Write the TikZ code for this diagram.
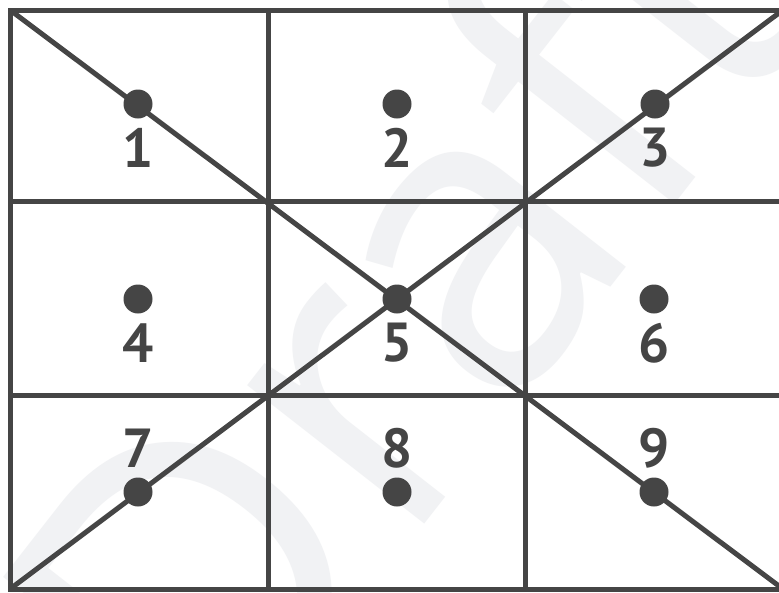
\documentclass[tikz,border=0pt]{standalone}
\usepackage{fontspec}
\newfontfamily\numfont{PT Sans}[Scale=1.0]
\newfontfamily\wmfont{Open Sans}
\definecolor{ink}{HTML}{454545}
\definecolor{wm}{HTML}{F1F2F4}
\tikzset{
  gridline/.style={draw=ink, line width=5pt},
  dotmark/.style={circle, fill=ink, inner sep=0pt, minimum size=29pt},
  numlabel/.style={inner sep=0pt, text=ink, font=\numfont\bfseries\fontsize{55}{55}\selectfont},
  watermark/.style={inner sep=0pt, text=wm, rotate=52, font=\wmfont\fontsize{420}{420}\selectfont}
}
\begin{document}
\begin{tikzpicture}[x=1pt, y=-1pt]
\useasboundingbox (0,0) rectangle (779,592);
\clip (0,0) rectangle (779,592);
\fill[white] (0,0) rectangle (779,592);
% watermark
\node[watermark] (wmark) at (395,305) {Draft};
% grid corners
\coordinate (tl) at (10,10);
\coordinate (tr) at (783,10);
\coordinate (bl) at (10,589);
\coordinate (br) at (783,589);
\coordinate (v1t) at (268,10);
\coordinate (v1b) at (268,589);
\coordinate (v2t) at (525,10);
\coordinate (v2b) at (525,589);
\coordinate (h1l) at (10,201);
\coordinate (h1r) at (783,201);
\coordinate (h2l) at (10,395);
\coordinate (h2r) at (783,395);
\draw[gridline] (tl) rectangle (br);
\draw[gridline] (v1t) -- (v1b);
\draw[gridline] (v2t) -- (v2b);
\draw[gridline] (h1l) -- (h1r);
\draw[gridline] (h2l) -- (h2r);
\draw[gridline] (tl) -- (br);
\draw[gridline] (bl) -- (tr);
% dots
\node[dotmark] (d1) at (138,104) {};
\node[dotmark] (d2) at (397,104) {};
\node[dotmark] (d3) at (655,104) {};
\node[dotmark] (d4) at (138,299) {};
\node[dotmark] (d5) at (397,299) {};
\node[dotmark] (d6) at (654,299) {};
\node[dotmark] (d7) at (138,492) {};
\node[dotmark] (d8) at (397,492) {};
\node[dotmark] (d9) at (654,492) {};
% labels
\node[numlabel] (n1) at (138,148) {1};
\node[numlabel] (n2) at (397,148) {2};
\node[numlabel] (n3) at (655,148) {3};
\node[numlabel] (n4) at (138,343) {4};
\node[numlabel] (n5) at (397,343) {5};
\node[numlabel] (n6) at (654,343) {6};
\node[numlabel] (n7) at (138,448) {7};
\node[numlabel] (n8) at (397,448) {8};
\node[numlabel] (n9) at (654,448) {9};
\end{tikzpicture}
\end{document}
